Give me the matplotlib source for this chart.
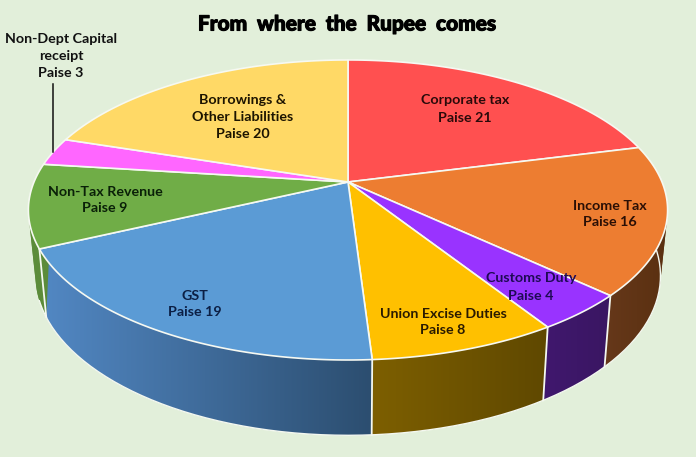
import numpy as np
import matplotlib
matplotlib.use('Agg')
import matplotlib.pyplot as plt
import matplotlib.patheffects as pe
from matplotlib.colors import to_rgb

plt.rcParams['font.family'] = ['Lato', 'DejaVu Sans']

names = ['Corporate tax', 'Income Tax', 'Customs Duty', 'Union Excise Duties', 'GST',
         'Non-Tax Revenue', 'Non-Dept Capital receipt', 'Borrowings & Other Liabilities']
paise = [21, 16, 4, 8, 19, 9, 3, 20]

top_colors = ['#FF5050', '#ED7D31', '#9933FF', '#FFC000', '#5B9BD5', '#70AD47', '#FF66FF', '#FFD966']
wall_left = ['#8a3a20', '#66381a', '#40186e', '#7d5f00', '#5288c4', '#5c8c3a', '#c050c0', '#c0a040']
wall_right = ['#8a3a20', '#5a3010', '#3a1662', '#5f4800', '#2c4e70', '#5c8c3a', '#c050c0', '#c0a040']

labels = ['Corporate tax\nPaise 21', 'Income Tax\nPaise 16', 'Customs Duty\nPaise 4',
          'Union Excise Duties\nPaise 8', 'GST\nPaise 19', 'Non-Tax Revenue\nPaise 9',
          'Non-Dept Capital\nreceipt\nPaise 3', 'Borrowings &\nOther Liabilities\nPaise 20']
label_xy = [(465, 109), (610, 214), (531, 287), (443, 322), (195, 304), (105, 200), (61, 56), (243, 117)]
label_colors = ['#2a0a0a', '#2a0f05', '#1f0a55', '#2a1a00', '#0c1f44', '#0a2008', '#111111', '#1c1400']

BG = '#E2EFDA'
CX = 348
K = 0.1865  # perspective of the disc


def rim(theta, cy, bx, by):
    # theta clockwise from the top, screen coords
    u, v = np.sin(theta), np.cos(theta)
    w = 1 + K * v
    return CX + bx * u / w, cy - by * v / w


def top_rim(theta):
    return rim(theta, 182, 314, 144.8)


def bottom_rim(theta):
    return rim(theta, 246, 307, 154)


def hull(x, y):
    # monotone chain, a wall polygon folds over itself at the silhouette otherwise
    pts = sorted(set(zip(x.tolist(), y.tolist())))

    def half(points):
        out = []
        for p in points:
            while len(out) > 1 and ((out[-1][0] - out[-2][0]) * (p[1] - out[-2][1])
                                    - (out[-1][1] - out[-2][1]) * (p[0] - out[-2][0])) <= 0:
                out.pop()
            out.append(p)
        return out[:-1]

    res = np.array(half(pts) + half(pts[::-1]))
    return res[:, 0], res[:, 1]


fig = plt.figure(figsize=(6.96, 4.57), dpi=100, facecolor=BG)
ax = fig.add_axes([0, 0, 1, 1])
ax.axis('off')

edges = np.cumsum([0] + paise) / sum(paise) * 2 * np.pi

# side wall first, the top face hides the back of it
for i in range(len(paise)):
    th = np.linspace(edges[i], edges[i + 1], 200)
    xt, yt = top_rim(th)
    xb, yb = bottom_rim(th)
    hx, hy = hull(np.r_[xt, xb], np.r_[yt, yb])
    poly = ax.fill(hx, hy, color=wall_right[i], lw=0, zorder=2)[0]
    lo, hi = hx.min(), hx.max()
    grad = np.linspace(0, 1, 128)[None, :, None]
    rgb = np.array(to_rgb(wall_left[i]))[None, None, :] * (1 - grad) + np.array(to_rgb(wall_right[i]))[None, None, :] * grad
    im = ax.imshow(rgb, extent=(lo, hi, 457, 0), aspect='auto', zorder=2.1, interpolation='bilinear')
    im.set_clip_path(poly)

ax.set_xlim(0, 696)
ax.set_ylim(457, 0)

# bottom rim and wall separators, front part only
th = np.linspace(edges[1] - 0.5, edges[5] + 0.1, 200)
ax.plot(*bottom_rim(th), color='#f4f8f0', lw=1.0, zorder=3)
for e in edges[2:6]:
    xt, yt = top_rim(e)
    xb, yb = bottom_rim(e)
    ax.plot([xt, xb], [yt, yb], color='#f4f8f0', lw=1.3, zorder=3)

# top face
for i in range(len(paise)):
    th = np.linspace(edges[i], edges[i + 1], 120)
    x, y = top_rim(th)
    ax.fill(np.r_[CX, x], np.r_[182, y], facecolor=top_colors[i], edgecolor='#f6f9f2',
            lw=1.2, joinstyle='round', zorder=4)

for txt, (x, y), col in zip(labels, label_xy, label_colors):
    ax.text(x, y, txt, ha='center', va='center', fontsize=10.3, fontweight='bold', color=col,
            linespacing=1.5, zorder=6)

# leader for the small slice
ax.plot([53, 53], [84, 152], color='#111111', lw=1.1, zorder=6)

ax.text(348, 24, 'From  where  the  Rupee  comes', ha='center', va='center', fontsize=15,
        fontweight='black', color='black', zorder=6,
        path_effects=[pe.withStroke(linewidth=0.8, foreground='black')])

fig.savefig('out.png', dpi=100, facecolor=BG)
